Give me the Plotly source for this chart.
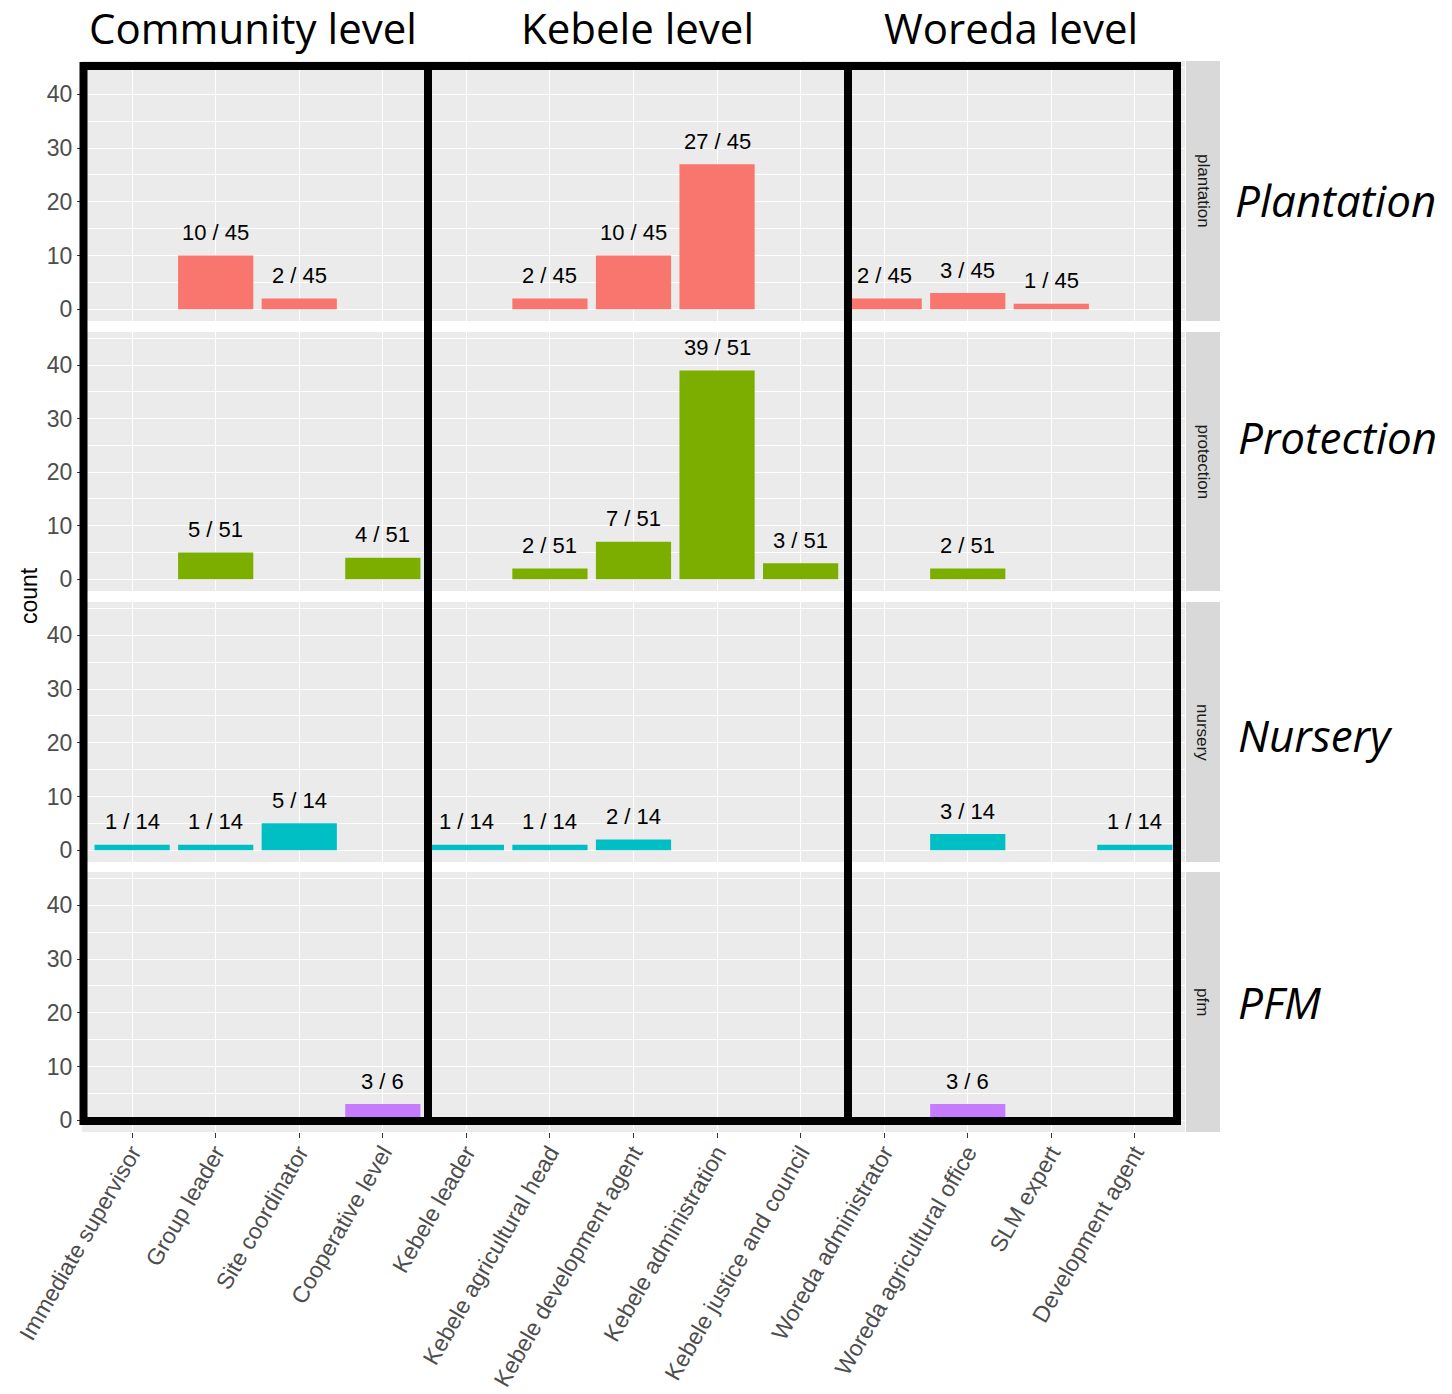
import plotly.graph_objects as go

W, H = 1452, 1394

categories = ["Immediate supervisor", "Group leader", "Site coordinator", "Cooperative level",
              "Kebele leader", "Kebele agricultural head", "Kebele development agent",
              "Kebele administration", "Kebele justice and council", "Woreda administrator",
              "Woreda agricultural office", "SLM expert", "Development agent"]

facets = ["plantation", "protection", "nursery", "pfm"]
facet_titles = ["Plantation", "Protection", "Nursery", "PFM"]
facet_colors = ["#F8766D", "#7CAE00", "#00BFC4", "#C77CFF"]
facet_totals = [45, 51, 14, 6]

plantation_cats = ["Group leader", "Site coordinator", "Kebele agricultural head",
                   "Kebele development agent", "Kebele administration", "Woreda administrator",
                   "Woreda agricultural office", "SLM expert"]
plantation_counts = [10, 2, 2, 10, 27, 2, 3, 1]

protection_cats = ["Group leader", "Cooperative level", "Kebele agricultural head",
                   "Kebele development agent", "Kebele administration", "Kebele justice and council",
                   "Woreda agricultural office"]
protection_counts = [5, 4, 2, 7, 39, 3, 2]

nursery_cats = ["Immediate supervisor", "Group leader", "Site coordinator", "Kebele leader",
                "Kebele agricultural head", "Kebele development agent",
                "Woreda agricultural office", "Development agent"]
nursery_counts = [1, 1, 5, 1, 1, 2, 3, 1]

pfm_cats = ["Cooperative level", "Woreda agricultural office"]
pfm_counts = [3, 3]

level_titles = ["Community level", "Kebele level", "Woreda level"]

series = [(plantation_cats, plantation_counts), (protection_cats, protection_counts),
          (nursery_cats, nursery_counts), (pfm_cats, pfm_counts)]


def px(x):
    return x / W


def py(y):
    return 1 - y / H


# panel geometry in pixels
panel_left, panel_right = 82, 1185
row_pix = [(61, 321), (332, 591), (602, 862), (872, 1132)]

fig = go.Figure()
annotations = []
shapes = []
GG = "Liberation Sans, Arial"

for i, (cats, counts) in enumerate(series):
    r = i + 1
    xa = "x" if r == 1 else f"x{r}"
    ya = "y" if r == 1 else f"y{r}"
    fig.add_trace(go.Bar(x=cats, y=counts, width=0.9, marker=dict(color=facet_colors[i], line=dict(width=0)),
                         xaxis=xa, yaxis=ya, showlegend=False, hoverinfo="x+y"))
    for c, n in zip(cats, counts):
        annotations.append(dict(x=c, y=n, xref=xa, yref=ya, text=f"{n} / {facet_totals[i]}",
                                showarrow=False, xanchor="center", yanchor="middle", yshift=23,
                                font=dict(family=GG, size=22, color="black")))
    top, bot = row_pix[i]
    xaxis_cfg = dict(domain=[px(panel_left), px(panel_right)], type="category",
                     categoryorder="array", categoryarray=categories, range=[-0.6, 12.6],
                     showgrid=True, gridcolor="white", gridwidth=1.2, zeroline=False,
                     showline=False, anchor=ya, fixedrange=True, automargin=False)
    if r == 4:
        xaxis_cfg.update(showticklabels=True, ticks="outside", ticklen=5, tickcolor="#333333",
                         tickwidth=1, tickangle=-60, ticklabelstandoff=-8,
                         tickfont=dict(family=GG, size=23, color="#4D4D4D"))
    else:
        xaxis_cfg.update(showticklabels=False, ticks="", matches="x4")
    yaxis_cfg = dict(domain=[py(bot), py(top)], range=[-2.2, 46.2], tickvals=[0, 10, 20, 30, 40],
                     showgrid=True, gridcolor="white", gridwidth=1.2, zeroline=False,
                     ticks="outside", ticklen=4, tickcolor="#333333", tickwidth=1,
                     tickfont=dict(family=GG, size=23, color="#4D4D4D"),
                     minor=dict(dtick=5, tick0=5, showgrid=True, gridcolor="white", gridwidth=0.6, ticks=""),
                     anchor=xa, fixedrange=True, automargin=False)
    fig.layout[("xaxis" if r == 1 else f"xaxis{r}")] = xaxis_cfg
    fig.layout[("yaxis" if r == 1 else f"yaxis{r}")] = yaxis_cfg

    # panel background
    shapes.append(dict(type="rect", xref="paper", yref="paper", x0=px(panel_left), x1=px(panel_right),
                       y0=py(bot), y1=py(top), fillcolor="#EBEBEB", line=dict(width=0), layer="below"))
    # strip
    shapes.append(dict(type="rect", xref="paper", yref="paper", x0=px(1186), x1=px(1220),
                       y0=py(bot), y1=py(top), fillcolor="#D9D9D9", line=dict(width=0), layer="below"))
    annotations.append(dict(x=px(1203), y=py((top + bot) / 2), xref="paper", yref="paper",
                            text=facets[i], textangle=90, showarrow=False,
                            xanchor="center", yanchor="middle",
                            font=dict(family=GG, size=17, color="#1A1A1A")))

# right-hand italic facet titles
title_y = [200, 437, 735, 1002]
title_x = [1233, 1236, 1236, 1236]
for t, yy, xx in zip(facet_titles, title_y, title_x):
    annotations.append(dict(x=px(xx), y=py(yy), xref="paper", yref="paper", text=f"<i>{t}</i>",
                            xanchor="left", yanchor="middle", showarrow=False,
                            font=dict(family="Open Sans", size=44, color="black")))

# level titles
for t, cx in zip(level_titles, [253, 637, 1011]):
    annotations.append(dict(x=px(cx), y=py(27), xref="paper", yref="paper", text=t,
                            xanchor="center", yanchor="middle", showarrow=False,
                            font=dict(family="Open Sans", size=42, color="black")))

# y-axis title
annotations.append(dict(x=px(29), y=py(596), xref="paper", yref="paper", text="count", textangle=-90,
                        showarrow=False, xanchor="center", yanchor="middle",
                        font=dict(family=GG, size=23, color="black")))

# black level boxes
for x0, x1 in [(83.5, 428), (428, 848), (848, 1177)]:
    shapes.append(dict(type="rect", xref="paper", yref="paper", x0=px(x0), x1=px(x1),
                       y0=py(1121), y1=py(66), line=dict(color="black", width=8),
                       fillcolor="rgba(0,0,0,0)", layer="above"))

fig.update_layout(width=W, height=H, margin=dict(l=0, r=0, t=0, b=0, autoexpand=False),
                  plot_bgcolor="rgba(0,0,0,0)", paper_bgcolor="white",
                  annotations=annotations, shapes=shapes, bargap=0.1)

fig.write_html("out.html", config={"displayModeBar": False},
               post_script="document.body.style.margin='0';")
